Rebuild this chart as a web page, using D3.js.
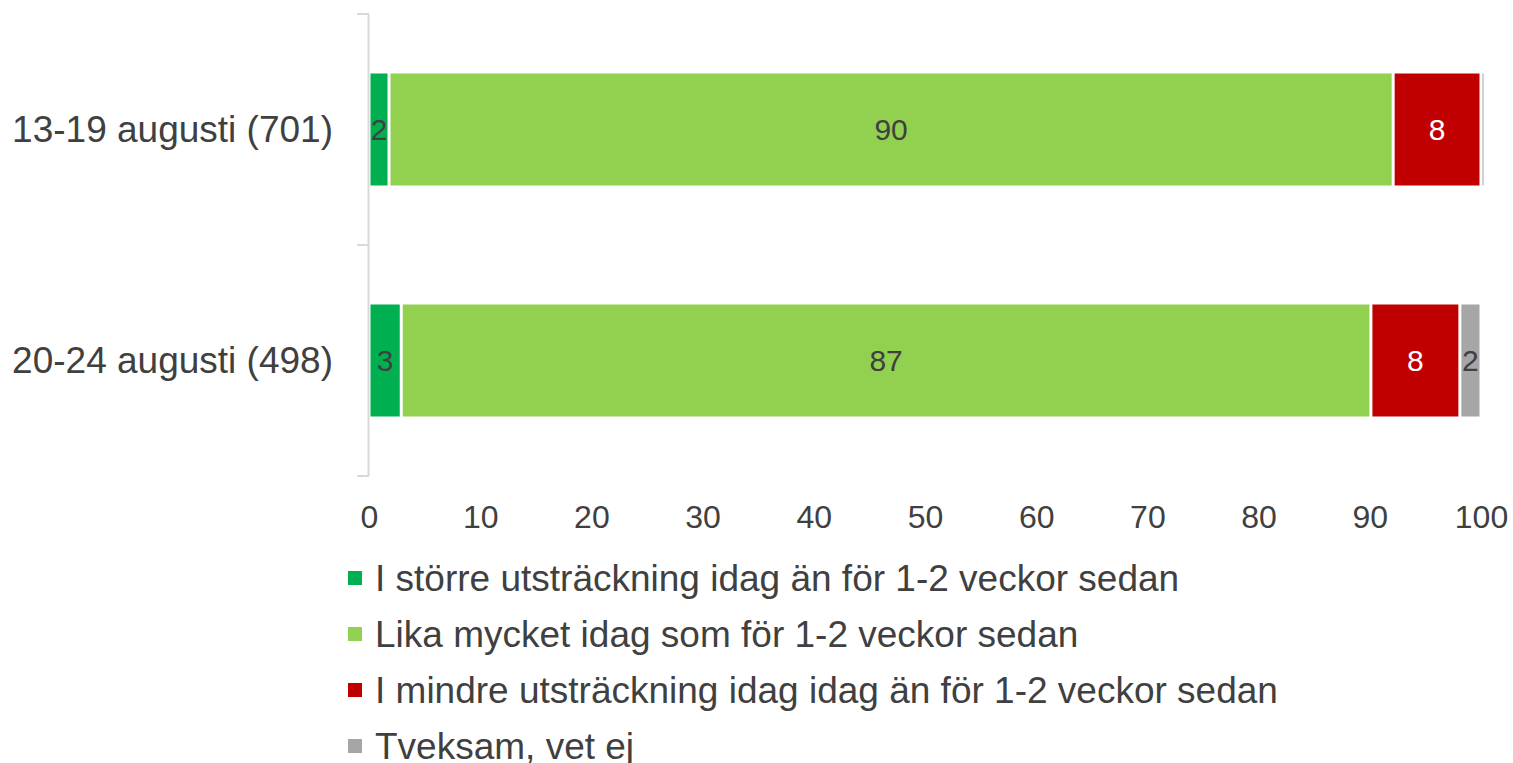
<!DOCTYPE html>
<html>
<head>
<meta charset="utf-8">
<script src="https://cdn.jsdelivr.net/npm/d3@7"></script>
<style>
  body { margin: 0; background: #fff; }
  text { font-family: "Liberation Sans", Arial, sans-serif; }
</style>
</head>
<body>
<svg id="chart" width="1513" height="763"></svg>
<script>
const categories = ["13-19 augusti (701)", "20-24 augusti (498)"];
const seriesNames = [
  "I större utsträckning idag än för 1-2 veckor sedan",
  "Lika mycket idag som för 1-2 veckor sedan",
  "I mindre utsträckning idag idag än för 1-2 veckor sedan",
  "Tveksam, vet ej"
];
const seriesColors = ["#00b050", "#92d050", "#c00000", "#a6a6a6"];
const labelColors = ["#404040", "#404040", "#ffffff", "#404040"];
// values per category, in series order
const values = [
  [1.8, 90.3, 7.9, 0.2],
  [2.9, 87.2, 8.0, 1.9]
];
const xTicks = [0, 10, 20, 30, 40, 50, 60, 70, 80, 90, 100];

const svg = d3.select("#chart");
const margin = {top: 14, left: 369, right: 32};
const plotBottom = 476;

const x = d3.scaleLinear()
    .domain([0, 100])
    .range([margin.left, 1513 - margin.right]);

const y = d3.scaleBand()
    .domain(categories)
    .range([margin.top, plotBottom])
    .padding(0);

const barH = 112;

// stack
const rows = categories.map((c, i) => {
  let acc = 0;
  return values[i].map((v, j) => {
    const seg = {cat: c, s: j, v, x0: acc, x1: acc + v};
    acc += v;
    return seg;
  });
});

const g = svg.append("g");

rows.forEach(row => {
  const yc = y(row[0].cat) + y.bandwidth() / 2;
  g.selectAll(null)
    .data(row)
    .enter().append("rect")
      .attr("x", d => x(d.x0) + 1.5)
      .attr("width", d => Math.max(1, x(d.x1) - x(d.x0) - 3))
      .attr("y", yc - barH / 2)
      .attr("height", barH)
      .attr("fill", d => seriesColors[d.s]);

  g.selectAll(null)
    .data(row.filter(d => Math.round(d.v) >= 1))
    .enter().append("text")
      .attr("x", d => (x(d.x0) + x(d.x1)) / 2)
      .attr("y", yc)
      .attr("dy", "0.35em")
      .attr("text-anchor", "middle")
      .attr("font-size", 30)
      .attr("fill", d => labelColors[d.s])
      .text(d => Math.round(d.v));
});

// category axis
const yAxis = svg.append("g");
yAxis.append("line")
    .attr("x1", margin.left - 0.5).attr("x2", margin.left - 0.5)
    .attr("y1", margin.top).attr("y2", plotBottom)
    .attr("stroke", "#d9d9d9").attr("stroke-width", 2);
yAxis.selectAll("line.tick")
  .data(categories.concat([null]))
  .enter().append("line")
    .attr("class", "tick")
    .attr("x1", margin.left - 12).attr("x2", margin.left)
    .attr("y1", (d, i) => margin.top + i * y.step())
    .attr("y2", (d, i) => margin.top + i * y.step())
    .attr("stroke", "#d9d9d9").attr("stroke-width", 2);
yAxis.selectAll("text")
  .data(categories)
  .enter().append("text")
    .attr("x", 333)
    .attr("y", d => y(d) + y.bandwidth() / 2)
    .attr("dy", "0.35em")
    .attr("text-anchor", "end")
    .attr("font-size", 37)
    .attr("fill", "#404040")
    .text(d => d);

// value axis (labels only)
const xAxis = svg.append("g")
    .attr("transform", `translate(0,${plotBottom})`)
    .call(d3.axisBottom(x).tickValues(xTicks).tickSize(0).tickPadding(29));
xAxis.select(".domain").remove();
xAxis.selectAll("text")
    .attr("font-size", 32)
    .attr("fill", "#404040")
    .attr("font-family", "\"Liberation Sans\", Arial, sans-serif");

// legend
const legend = svg.append("g")
  .selectAll("g")
  .data(seriesNames)
  .enter().append("g")
    .attr("transform", (d, i) => `translate(348,${578 + i * 56})`);
legend.append("rect")
    .attr("x", 0).attr("y", -7)
    .attr("width", 14).attr("height", 14)
    .attr("fill", (d, i) => seriesColors[i]);
legend.append("text")
    .attr("x", 27)
    .attr("dy", "0.35em")
    .attr("font-size", 37)
    .attr("fill", "#404040")
    .text(d => d);
</script>
</body>
</html>
